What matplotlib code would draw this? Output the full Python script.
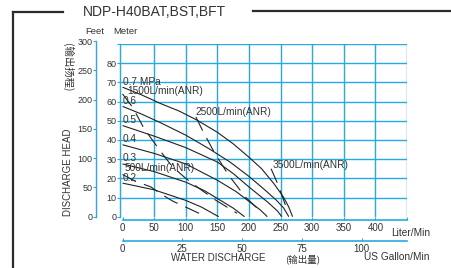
import matplotlib
matplotlib.use("Agg")
from matplotlib import pyplot as plt
from matplotlib.lines import Line2D

plt.rcParams["font.family"] = ["Liberation Sans", "Noto Sans CJK SC", "DejaVu Sans"]
plt.rcParams["lines.scale_dashes"] = False

# pump performance curves (flow L/min, head m) per air pressure
pressures = ["0.7 MPa", "0.6", "0.5", "0.4", "0.3", "0.2"]
label_heads = [70, 60, 50, 40, 30, 20]
flow_07 = [0, 30, 60, 90, 118, 150, 175, 200, 220, 240, 255, 263, 269]
head_07 = [67.5, 63.5, 59, 55, 50.3, 44, 38, 31, 25, 17, 10, 5, 0]
flow_06 = [0, 30, 60, 100, 136, 170, 200, 225, 243, 255, 263]
head_06 = [57.5, 53.5, 49, 42.5, 35.6, 28.5, 21, 14, 8.7, 4.5, 0]
flow_05 = [0, 50, 100, 150, 175, 200, 230, 245, 252]
head_05 = [47.5, 42, 36, 28.5, 22.5, 15.5, 7.5, 3, 0]
flow_04 = [0, 50, 100, 150, 180, 200, 218, 229]
head_04 = [37.5, 33, 27.5, 19, 13, 8, 3.5, 0]
flow_03 = [0, 50, 100, 130, 150, 175, 193]
head_03 = [27.5, 23.5, 18, 13.5, 9.5, 4.5, 0]
flow_02 = [0, 50, 100, 125, 152]
head_02 = [17.5, 14, 8.5, 5, 0]

# air consumption lines (ANR)
air_labels = ["500L/min(ANR)", "1500L/min(ANR)", "2500L/min(ANR)", "3500L/min(ANR)"]
air_flow_500 = [0, 20, 45, 60, 80, 100, 126]
air_head_500 = [22, 18.5, 15.5, 12, 8, 5, 1]
air_flow_1500 = [0, 16, 34, 58, 79, 100, 118, 147, 181]
air_head_1500 = [64, 57, 46, 35, 26, 20, 15.5, 8.7, 1.8]
air_flow_2500 = [116, 128, 146, 168, 195, 221]
air_head_2500 = [52, 44, 33, 21.6, 10, 2]
air_flow_3500 = [235, 247, 262]
air_head_3500 = [25, 16, 2]

meter_ticks = [0, 10, 20, 30, 40, 50, 60, 70, 80, 90]
meter_labels = ["0", "10", "20", "30", "40", "50", "60", "70", "80", ""]
feet_ticks = [0, 50, 100, 150, 200, 250, 300]
liter_ticks = [0, 50, 100, 150, 200, 250, 300, 350, 400, 450]
liter_labels = ["0", "50", "100", "150", "200", "250", "300", "350", "400", ""]
gallon_ticks = [0, 25, 50, 75, 100]

BLUE = "#27a9e1"
INK = "#222222"
TXT = "#333333"
W, H = 452, 268


def box(x0, y_bottom, w, h):
    return [x0 / W, 1 - y_bottom / H, w / W, h / H]


fig = plt.figure(figsize=(4.52, 2.68), dpi=100)

# main chart
ax = fig.add_axes(box(120, 216.7, 287, 172.7))
ax.set_xlim(-4, 450)
ax.set_ylim(0, 90)
for s in ["top", "right", "bottom"]:
    ax.spines[s].set_visible(False)
ax.spines["left"].set_color(BLUE)
ax.spines["left"].set_linewidth(1.0)
ax.set_yticks(meter_ticks)
ax.set_yticklabels(meter_labels)
ax.set_xticks(liter_ticks)
ax.tick_params(axis="x", length=0, labelbottom=False)
ax.tick_params(axis="y", direction="out", length=2, width=0.8, color=BLUE,
               pad=0.5, labelsize=6.5, labelcolor=TXT)
ax.grid(True, color=BLUE, linewidth=1.0)
ax.get_ygridlines()[0].set_visible(False)
ax.get_xgridlines()[0].set_visible(False)
ax.set_axisbelow(True)

curves = [(flow_07, head_07), (flow_06, head_06), (flow_05, head_05),
          (flow_04, head_04), (flow_03, head_03), (flow_02, head_02)]
for (fl, hd), lab, lh in zip(curves, pressures, label_heads):
    ax.plot(fl, hd, color=INK, linewidth=0.8, solid_capstyle="butt",
            solid_joinstyle="round")
    ax.text(0, lh + 0.4, lab, fontsize=7.3, color=TXT, ha="left", va="center")

air_lines = [(air_flow_500, air_head_500), (air_flow_1500, air_head_1500),
             (air_flow_2500, air_head_2500), (air_flow_3500, air_head_3500)]
for fl, hd in air_lines:
    ax.plot(fl, hd, color=INK, linewidth=0.8, linestyle=(0, (11, 6)))

ax.text(4, 25.5, air_labels[0], fontsize=7.3, color=TXT, ha="left", va="center")
ax.text(7, 65.5, air_labels[1], fontsize=7.3, color=TXT, ha="left", va="center")
ax.text(116, 54.6, air_labels[2], fontsize=7.3, color=TXT, ha="left", va="center")
ax.text(237, 26.9, air_labels[3], fontsize=7.3, color=TXT, ha="left", va="center")

# feet axis
ax_ft = fig.add_axes(box(96, 216.7, 0.01, 175.5))
ax_ft.set_ylim(0, 300)
ax_ft.patch.set_visible(False)
for s in ["top", "right", "bottom"]:
    ax_ft.spines[s].set_visible(False)
ax_ft.spines["left"].set_color(BLUE)
ax_ft.spines["left"].set_linewidth(1.0)
ax_ft.set_xticks([])
ax_ft.set_yticks(feet_ticks)
ax_ft.tick_params(axis="y", direction="out", length=2, width=0.8, color=BLUE,
                  pad=0.5, labelsize=6.5, labelcolor=TXT)

# liter/min axis
ax_l = fig.add_axes(box(120, 220, 287, 0.01))
ax_l.set_xlim(-4, 450)
ax_l.patch.set_visible(False)
for s in ["top", "right", "left"]:
    ax_l.spines[s].set_visible(False)
ax_l.spines["bottom"].set_color(BLUE)
ax_l.spines["bottom"].set_linewidth(1.2)
ax_l.spines["bottom"].set_bounds(0, 450)
ax_l.set_yticks([])
ax_l.set_xticks(liter_ticks)
ax_l.set_xticklabels(liter_labels)
ax_l.tick_params(axis="x", direction="in", length=2.5, width=0.8, color=BLUE,
                 pad=2, labelsize=7, labelcolor=TXT)

# US gallon/min axis
ax_g = fig.add_axes(box(120, 241, 287, 0.01))
ax_g.set_xlim(-4 / 3.785, 450 / 3.785)
ax_g.patch.set_visible(False)
for s in ["top", "right", "left"]:
    ax_g.spines[s].set_visible(False)
ax_g.spines["bottom"].set_color(BLUE)
ax_g.spines["bottom"].set_linewidth(1.2)
ax_g.spines["bottom"].set_bounds(0, 450 / 3.785)
ax_g.set_yticks([])
ax_g.set_xticks(gallon_ticks)
ax_g.tick_params(axis="x", direction="in", length=2.5, width=0.8, color=BLUE,
                 pad=2, labelsize=7, labelcolor=TXT)

# labels
fig.text(95 / W, 1 - 31 / H, "Feet", fontsize=6.8, color=TXT, ha="center", va="center")
fig.text(125 / W, 1 - 31 / H, "Meter", fontsize=6.8, color=TXT, ha="center", va="center")
fig.text(68 / W, 1 - 172 / H, "DISCHARGE HEAD", fontsize=7, color=TXT,
         ha="center", va="center", rotation=90)
fig.text(68 / W, 1 - 67 / H, "(输出扬程)", fontsize=7.5, color=TXT,
         ha="center", va="center", rotation=-90, family=["Noto Sans CJK SC"])
fig.text(430 / W, 1 - 233 / H, "Liter/Min", fontsize=7.3, color=TXT, ha="right", va="center")
fig.text(430 / W, 1 - 257 / H, "US Gallon/Min", fontsize=7.3, color=TXT, ha="right", va="center")
fig.text(218 / W, 1 - 258 / H, "WATER DISCHARGE", fontsize=7, color=TXT, ha="center", va="center")
fig.text(303 / W, 1 - 259 / H, "(输出量)", fontsize=6.8, color=TXT, ha="center", va="center",
         family=["Noto Sans CJK SC"])

# title and frame
fig.text(154 / W, 1 - 12 / H, "NDP-H40BAT,BST,BFT", fontsize=10, color=TXT,
         ha="center", va="center")
frame_kw = dict(color="#2b2b2b", linewidth=1.6, transform=fig.transFigure)
fig.add_artist(Line2D([13 / W, 63 / W], [1 - 12 / H, 1 - 12 / H], **frame_kw))
fig.add_artist(Line2D([13 / W, 13 / W], [1 - 12 / H, 0], **frame_kw))
fig.add_artist(Line2D([253 / W, 1], [1 - 10.7 / H, 1 - 10.7 / H], **frame_kw))

fig.savefig("out.png", dpi=100)
